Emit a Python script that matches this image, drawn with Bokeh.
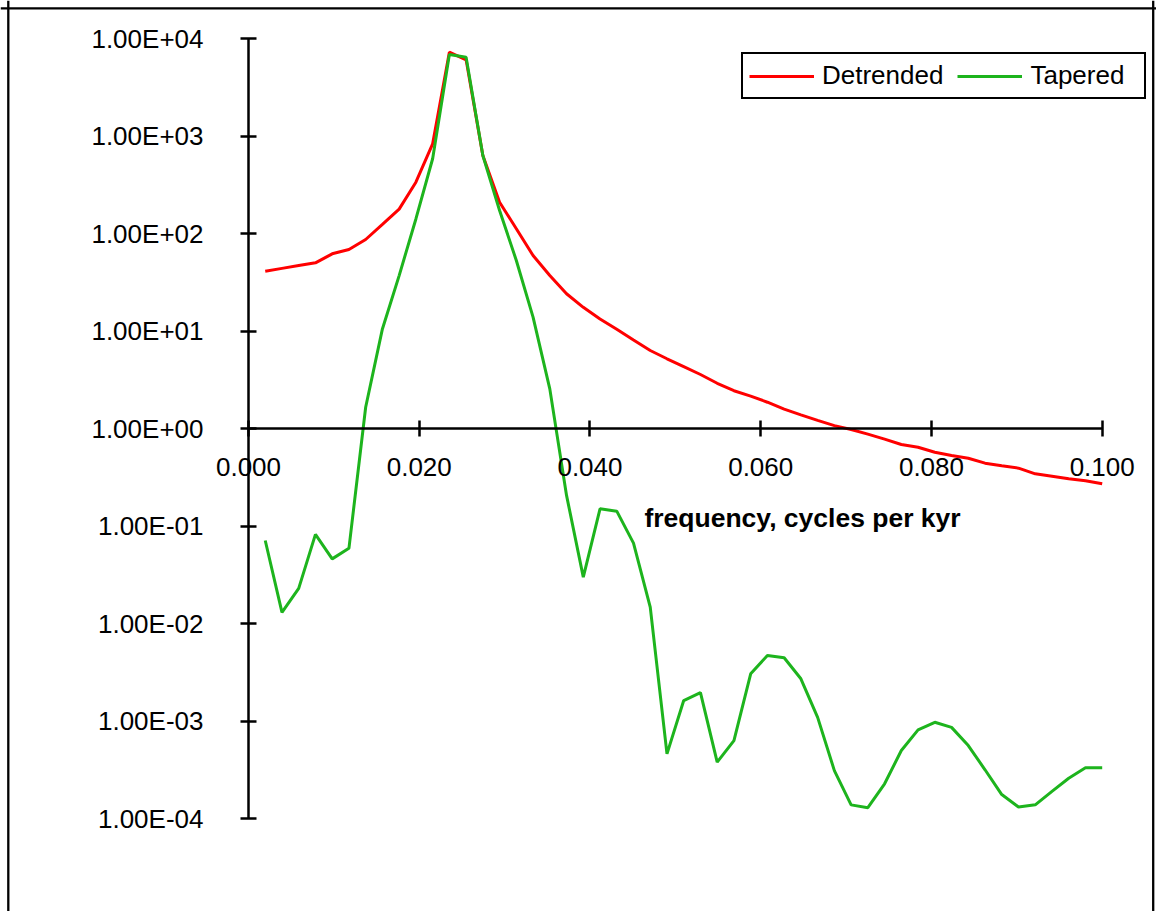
from bokeh.plotting import figure
from bokeh.models import (Range1d, FixedTicker, Span, Label, Legend, LegendItem,
                          CustomJSTickFormatter)
from bokeh.embed import file_html
from bokeh.resources import INLINE

# ---------------- data ----------------
freq = [0.001961, 0.003922, 0.005882, 0.007843, 0.009804, 0.011765, 0.013725, 0.015686,
        0.017647, 0.019608, 0.021569, 0.023529, 0.025490, 0.027451, 0.029412, 0.031373,
        0.033333, 0.035294, 0.037255, 0.039216, 0.041176, 0.043137, 0.045098, 0.047059,
        0.049020, 0.050980, 0.052941, 0.054902, 0.056863, 0.058824, 0.060784, 0.062745,
        0.064706, 0.066667, 0.068627, 0.070588, 0.072549, 0.074510, 0.076471, 0.078431,
        0.080392, 0.082353, 0.084314, 0.086275, 0.088235, 0.090196, 0.092157, 0.094118,
        0.096078, 0.098039, 0.100000]

detrended = [41.1, 43.9, 46.9, 50.0, 61.9, 68.5, 86.8, 124, 178, 336, 832, 7240, 6040,
             631, 209, 112, 59.5, 37.1, 24.1, 17.5, 13.3, 10.4, 8.09, 6.31, 5.19, 4.32,
             3.58, 2.91, 2.44, 2.15, 1.86, 1.58, 1.38, 1.21, 1.07, 0.977, 0.875, 0.777,
             0.685, 0.643, 0.571, 0.529, 0.496, 0.441, 0.414, 0.392, 0.343, 0.324, 0.305,
             0.291, 0.271]

tapered = [0.071, 0.013, 0.0229, 0.082, 0.046, 0.059, 1.65, 10.5, 37, 141, 584, 6850,
           6430, 631, 172, 52.9, 13.9, 2.55, 0.206, 0.0299, 0.150, 0.142, 0.0667, 0.0147,
           0.00046, 0.00162, 0.00195, 0.000378, 0.00063, 0.00305, 0.0047, 0.00445,
           0.00271, 0.00109, 0.00031, 0.000138, 0.000129, 0.000227, 0.000498, 0.00081,
           0.00097, 0.00086, 0.00056, 0.000316, 0.000176, 0.000131, 0.000138, 0.00019,
           0.000259, 0.000331, 0.000331]

series_names = ["Detrended", "Tapered"]
series_colors = ["#FF0000", "#1DB41D"]

x_ticks = [0.0, 0.02, 0.04, 0.06, 0.08, 0.1]
x_tick_labels = ["0.000", "0.020", "0.040", "0.060", "0.080", "0.100"]
y_ticks = [1e-4, 1e-3, 1e-2, 1e-1, 1e0, 1e1, 1e2, 1e3, 1e4]
y_tick_labels = ["1.00E-04", "1.00E-03", "1.00E-02", "1.00E-01", "1.00E+00",
                 "1.00E+01", "1.00E+02", "1.00E+03", "1.00E+04"]
x_title = "frequency, cycles per kyr"

# ---------------- layout ----------------
W, H = 1156, 911
PX_X0 = 248.0        # canvas px where x = 0
PX_PER_X = 8537.0    # px per x unit
PX_Y1 = 428.0        # canvas px (from top) where y = 1
PX_PER_DEC = 97.5    # px per decade

x_range = Range1d(-PX_X0 / PX_PER_X, (W - PX_X0) / PX_PER_X)
y_range = Range1d(10 ** ((PX_Y1 - H) / PX_PER_DEC), 10 ** (PX_Y1 / PX_PER_DEC))

p = figure(width=W, height=H, x_range=x_range, y_range=y_range, y_axis_type="log",
           output_backend="svg", toolbar_location=None, min_border=0,
           outline_line_color=None, background_fill_color="white",
           border_fill_color="white")
p.grid.visible = False

FONT = "Liberation Sans"

fmt_code = """
for (let i = 0; i < tv.length; i++) {
  if (Math.abs(tv[i] - tick) <= 1e-12 + 1e-6 * Math.abs(tv[i])) return tl[i];
}
return "";
"""

xa = p.xaxis[0]
ya = p.yaxis[0]
xa.fixed_location = 1.0
ya.fixed_location = 0.0
xa.bounds = (x_ticks[0], x_ticks[-1])
ya.bounds = (y_ticks[0], y_ticks[-1])
xa.ticker = FixedTicker(ticks=x_ticks)
ya.ticker = FixedTicker(ticks=y_ticks)
xa.formatter = CustomJSTickFormatter(args=dict(tv=x_ticks, tl=x_tick_labels), code=fmt_code)
ya.formatter = CustomJSTickFormatter(args=dict(tv=y_ticks, tl=y_tick_labels), code=fmt_code)

for ax in (xa, ya):
    ax.axis_line_width = 2.5
    ax.axis_line_color = "black"
    ax.major_tick_line_width = 2.5
    ax.major_tick_line_color = "black"
    ax.major_tick_in = 8
    ax.major_tick_out = 8
    ax.minor_tick_line_color = None
    ax.major_label_text_font = FONT
    ax.major_label_text_font_size = "26px"
    ax.major_label_text_color = "black"
ya.major_label_standoff = 37
xa.major_label_standoff = 21

# ---------------- series ----------------
r1 = p.line(freq, detrended, line_color=series_colors[0], line_width=3)
r2 = p.line(freq, tapered, line_color=series_colors[1], line_width=3)

legend = Legend(items=[LegendItem(label=series_names[0], renderers=[r1]),
                       LegendItem(label=series_names[1], renderers=[r2])],
                orientation="horizontal", location=(741, 812), margin=0,
                padding=6, spacing=14, glyph_width=65, glyph_height=20,
                label_standoff=8, label_width=108,
                label_text_font=FONT, label_text_font_size="26px",
                label_text_color="black",
                border_line_color="black", border_line_width=2.5,
                border_line_alpha=1.0,
                background_fill_color="white", background_fill_alpha=1.0)
p.add_layout(legend)

p.add_layout(Label(x=0.0649, y=0.1214, text=x_title, text_align="center",
                   text_baseline="alphabetic", text_font=FONT,
                   text_font_size="26.5px", text_font_style="bold",
                   text_color="black"))

# chart-area border (left, top, right)
p.add_layout(Span(location=(7.8 - PX_X0) / PX_PER_X, dimension="height",
                  line_color="black", line_width=2.3))
p.add_layout(Span(location=(1152.7 - PX_X0) / PX_PER_X, dimension="height",
                  line_color="black", line_width=2.3))
p.add_layout(Span(location=10 ** ((PX_Y1 - 7.8) / PX_PER_DEC), dimension="width",
                  line_color="black", line_width=2.3))

open("out.html", "w").write(file_html(p, INLINE))
